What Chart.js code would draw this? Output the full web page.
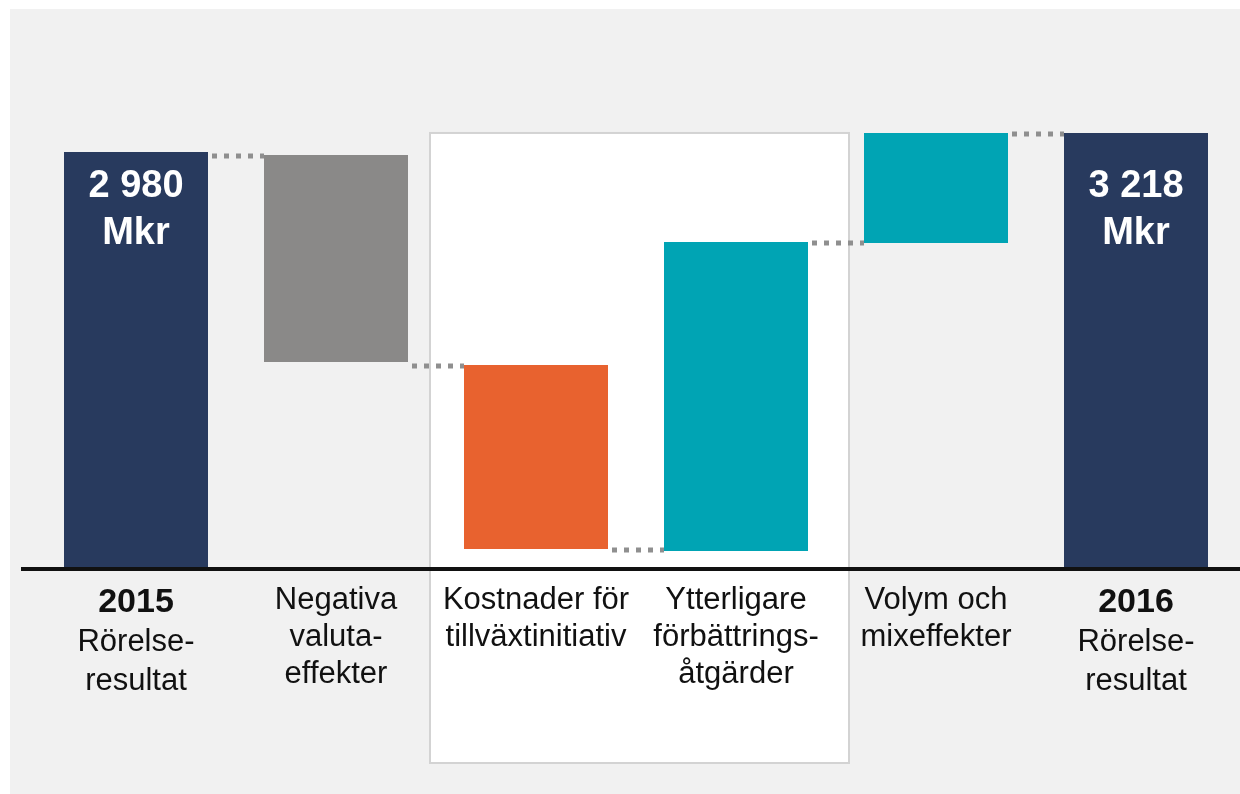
<!DOCTYPE html>
<html>
<head>
<meta charset="utf-8">
<script src="https://cdn.jsdelivr.net/npm/chart.js@4.4.1/dist/chart.umd.min.js"></script>
<style>
    html, body { margin: 0; padding: 0; background: #ffffff; font-family: Arial, "Liberation Sans", sans-serif; }
    #wrap { width: 1240px; height: 794px; position: relative; }
</style>
</head>
<body>
<div id="wrap"><canvas id="waterfall" width="1240" height="794"></canvas></div>
<script>
// Categories (first line bold where flagged)
const categoryLines = [
    ['2015', 'Rörelse-', 'resultat'],
    ['Negativa', 'valuta-', 'effekter'],
    ['Kostnader för', 'tillväxtinitiativ'],
    ['Ytterligare', 'förbättrings-', 'åtgärder'],
    ['Volym och', 'mixeffekter'],
    ['2016', 'Rörelse-', 'resultat']
];
const boldFirstLine = [true, false, false, false, false, true];

// Floating bar ranges as drawn (visual Mkr scale)
const barStart = [0, 1528, 148, 133, 2406, 0];
const barEnd = [3077, 3055, 1506, 2413, 3218, 3218];

// Labels inside the total bars
const valueLabels = [['2 980', 'Mkr'], [], [], [], [], ['3 218', 'Mkr']];

const barColors = ['#283a5e', '#8a8988', '#e8622f', '#00a4b4', '#00a4b4', '#283a5e'];

// index of the highlighted group (white box behind)
const boxFrom = 2;
const boxTo = 3;

const FONT = 'Arial, "Liberation Sans", sans-serif';

const decorPlugin = {
    id: 'decor',
    beforeDraw(chart) {
        const ctx = chart.ctx;
        const x = chart.scales.x;
        const y = chart.scales.y;
        ctx.save();
        ctx.fillStyle = '#ffffff';
        ctx.fillRect(0, 0, chart.width, chart.height);
        ctx.fillStyle = '#f1f1f1';
        ctx.fillRect(10, 9, chart.width - 10, chart.height - 9);

        // white highlight box
        const left = x.getPixelForValue(boxFrom) - 106;
        const right = x.getPixelForValue(boxTo) + 113;
        const top = y.getPixelForValue(barEnd[4]);
        ctx.fillStyle = '#ffffff';
        ctx.fillRect(left, top, right - left, 763 - top);
        ctx.strokeStyle = '#d3d3d3';
        ctx.lineWidth = 2;
        ctx.strokeRect(left, top, right - left, 763 - top);
        ctx.restore();
    },
    afterDatasetsDraw(chart) {
        const ctx = chart.ctx;
        const x = chart.scales.x;
        const y = chart.scales.y;
        const meta = chart.getDatasetMeta(0);
        ctx.save();

        // dotted connectors between neighbouring bars
        const levels = [barEnd[1], barEnd[2], barStart[2], barEnd[3], barEnd[4]];
        ctx.strokeStyle = '#8f8f8f';
        ctx.lineWidth = 5;
        ctx.setLineDash([5, 7]);
        for (let i = 0; i < meta.data.length - 1; i++) {
            const a = meta.data[i];
            const b = meta.data[i + 1];
            const yy = y.getPixelForValue(levels[i]) + 1;
            ctx.beginPath();
            ctx.moveTo(a.x + a.width / 2 + 4, yy);
            ctx.lineTo(b.x - b.width / 2, yy);
            ctx.stroke();
        }
        ctx.setLineDash([]);

        // axis line
        const base = y.getPixelForValue(0);
        ctx.strokeStyle = '#111111';
        ctx.lineWidth = 4;
        ctx.beginPath();
        ctx.moveTo(21, base);
        ctx.lineTo(chart.width, base);
        ctx.stroke();

        // value labels in total bars
        ctx.fillStyle = '#ffffff';
        ctx.textAlign = 'center';
        ctx.textBaseline = 'middle';
        ctx.font = 'bold 38px ' + FONT;
        valueLabels.forEach((lines, i) => {
            if (!lines.length) return;
            const bar = meta.data[i];
            lines.forEach((t, j) => {
                ctx.fillText(t, bar.x, base - 382 + j * 47);
            });
        });

        // category labels
        ctx.fillStyle = '#111111';
        categoryLines.forEach((lines, i) => {
            const cx = x.getPixelForValue(i);
            lines.forEach((t, j) => {
                if (boldFirstLine[i]) {
                    ctx.font = (j === 0 ? 'bold 34px ' : '31px ') + FONT;
                    ctx.fillText(t, cx, base + 34 + j * 39);
                } else {
                    ctx.font = '31px ' + FONT;
                    ctx.fillText(t, cx, base + 31 + j * 37);
                }
            });
        });
        ctx.restore();
    }
};

new Chart(document.getElementById('waterfall'), {
    type: 'bar',
    data: {
        labels: categoryLines.map(l => l.join(' ')),
        datasets: [{
            data: barStart.map((s, i) => [s, barEnd[i]]),
            backgroundColor: barColors,
            borderWidth: 0,
            borderSkipped: false,
            barPercentage: 0.72,
            categoryPercentage: 1
        }]
    },
    options: {
        responsive: false,
        devicePixelRatio: 1,
        animation: false,
        layout: { padding: { left: 36, right: 4, top: 27, bottom: 225 } },
        plugins: {
            legend: { display: false },
            tooltip: { enabled: false }
        },
        scales: {
            x: { display: false },
            y: { display: false, min: 0, max: 4000 }
        }
    },
    plugins: [decorPlugin]
});
</script>
</body>
</html>
